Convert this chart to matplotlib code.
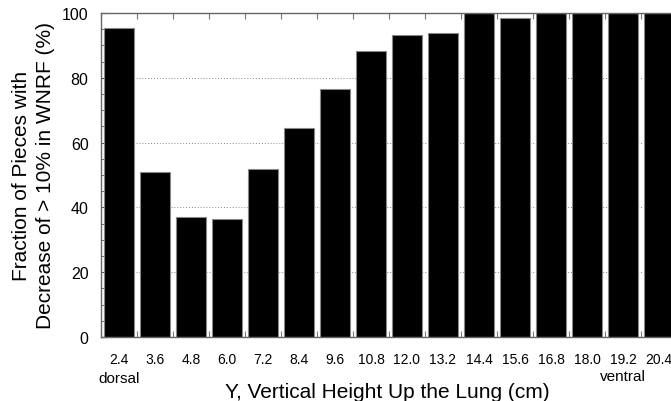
import numpy as np
import matplotlib.pyplot as plt
from matplotlib.ticker import MultipleLocator

plt.rcParams['font.family'] = ['Liberation Sans', 'DejaVu Sans']

heights = [2.4, 3.6, 4.8, 6.0, 7.2, 8.4, 9.6, 10.8, 12.0, 13.2,
           14.4, 15.6, 16.8, 18.0, 19.2, 20.4]
fractions = [95.5, 50.8, 37.0, 36.4, 51.9, 64.5, 76.6, 88.2, 93.1, 93.7,
             100, 98.6, 100, 100, 100, 100]
tick_labels = ["%.1f" % h for h in heights]

fig = plt.figure(figsize=(6.71, 4.02), dpi=100)
# axes runs a bit past the right edge, like the cropped original
ax = fig.add_axes([101 / 671, 1 - 338 / 402, 576 / 671, 324 / 402])

ax.bar(heights, fractions, width=1.03, color='black', edgecolor='#888888',
       linewidth=0.8, zorder=2)

ax.set_xlim(1.8, 21.0)
ax.set_ylim(0, 100)
ax.set_yticks([0, 20, 40, 60, 80, 100])
ax.yaxis.set_minor_locator(MultipleLocator(5))
ax.set_xticks(heights)
ax.set_xticklabels(tick_labels, fontsize=10)
ax.xaxis.set_minor_locator(MultipleLocator(0.6))
ax.tick_params(axis='y', labelsize=11.5, direction='in', length=5, width=0.8,
               color='#555555', pad=9)
ax.tick_params(axis='y', which='minor', direction='in', length=3, color='#555555')
ax.tick_params(axis='x', which='both', direction='in', top=True, length=4,
               width=0.8, color='#777777', pad=11)
ax.tick_params(axis='x', which='major', length=0)

ax.grid(axis='y', linestyle=(0, (1, 2)), color='#888888', linewidth=0.7, zorder=0)
ax.set_axisbelow(True)

for s in ['top', 'left', 'bottom']:
    ax.spines[s].set_color('#666666')
    ax.spines[s].set_linewidth(1.0)
ax.spines['right'].set_visible(False)

ax.set_ylabel("Fraction of Pieces with\nDecrease of > 10% in WNRF (%)",
              fontsize=15, linespacing=1.3)
ax.yaxis.set_label_coords(-0.08, 0.5)
ax.set_xlabel("Y, Vertical Height Up the Lung (cm)", fontsize=15)
ax.xaxis.set_label_coords(0.497, -0.14)

ax.text(2.4, -10.5, "dorsal", ha='center', va='top', fontsize=11)
ax.text(19.2, -10, "ventral", ha='center', va='top', fontsize=11)

fig.savefig("out.png", dpi=100)
